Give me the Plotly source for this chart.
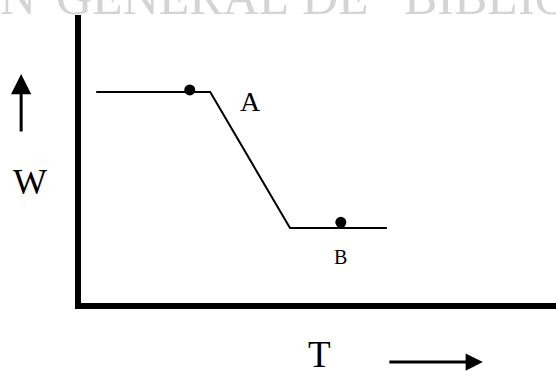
import plotly.graph_objects as go

# Curve (temperature T vs weight W), arbitrary units 0-10
T_curve = [0.32, 2.72, 4.40, 6.44]
W_curve = [7.33, 7.33, 2.60, 2.60]

# Marked points
T_points = [2.29, 5.47]
W_points = [7.40, 2.80]
point_labels = ["A", "B"]
label_T = [3.56, 5.47]
label_W = [6.98, 1.60]
label_sizes = [28, 20]

axis_title_x = "T"
axis_title_y = "W"
watermark_words = ["N", "GENERAL", "DE", "BIBLIOTECAS"]

FONT = "Liberation Serif, Times New Roman, serif"

fig = go.Figure()
fig.add_trace(go.Scatter(x=T_curve, y=W_curve, mode="lines",
                         line=dict(color="black", width=2), hoverinfo="skip"))
fig.add_trace(go.Scatter(x=T_points, y=W_points, mode="markers",
                         marker=dict(color="black", size=11), hoverinfo="skip"))

for t, w, s, fs in zip(label_T, label_W, point_labels, label_sizes):
    fig.add_annotation(x=t, y=w, xref="x", yref="y", text=s, showarrow=False,
                       xanchor="center", yanchor="middle",
                       font=dict(family=FONT, size=fs, color="black"))

# axis titles
fig.add_annotation(x=-0.107, y=0.42, xref="paper", yref="paper", text=axis_title_y,
                   showarrow=False, xanchor="center", yanchor="middle",
                   font=dict(family=FONT, size=36, color="black"))
fig.add_annotation(x=0.503, y=-0.178, xref="paper", yref="paper", text=axis_title_x,
                   showarrow=False, xanchor="center", yanchor="middle",
                   font=dict(family=FONT, size=37, color="black"))

# direction arrows
fig.add_annotation(x=-0.126, y=0.795, xref="paper", yref="paper", text="",
                   showarrow=True, ax=0, ay=59, arrowhead=2, arrowwidth=3,
                   arrowsize=1.35, arrowcolor="black", standoff=0)
fig.add_annotation(x=0.846, y=-0.205, xref="paper", yref="paper", text="",
                   showarrow=True, ax=-95, ay=0, arrowhead=2, arrowwidth=3,
                   arrowsize=1.15, arrowcolor="black", standoff=0)

# watermark from the scanned page (words placed along the top edge)
word_x = [-0.1726, -0.0547, 0.4632, 0.6779]
for wx, word in zip(word_x, watermark_words):
    fig.add_annotation(x=wx, y=0.962, xref="paper", yref="paper", text=word,
                       xanchor="left", yanchor="bottom", showarrow=False, borderpad=0,
                       font=dict(family=FONT, size=50, color="#d4d4d4"))

axis_common = dict(showgrid=False, zeroline=False, showticklabels=False, ticks="",
                   showline=True, linecolor="black", fixedrange=True)
fig.update_layout(
    width=556, height=371,
    margin=dict(l=81, r=0, t=15, b=68),
    plot_bgcolor="white", paper_bgcolor="white",
    showlegend=False,
    xaxis=dict(range=[0, 10], linewidth=6, **axis_common),
    yaxis=dict(range=[0, 10], linewidth=6, **axis_common),
)

fig.write_html("out.html", config={"displayModeBar": False},
               post_script="document.body.style.margin='0';document.body.style.overflow='hidden';")
